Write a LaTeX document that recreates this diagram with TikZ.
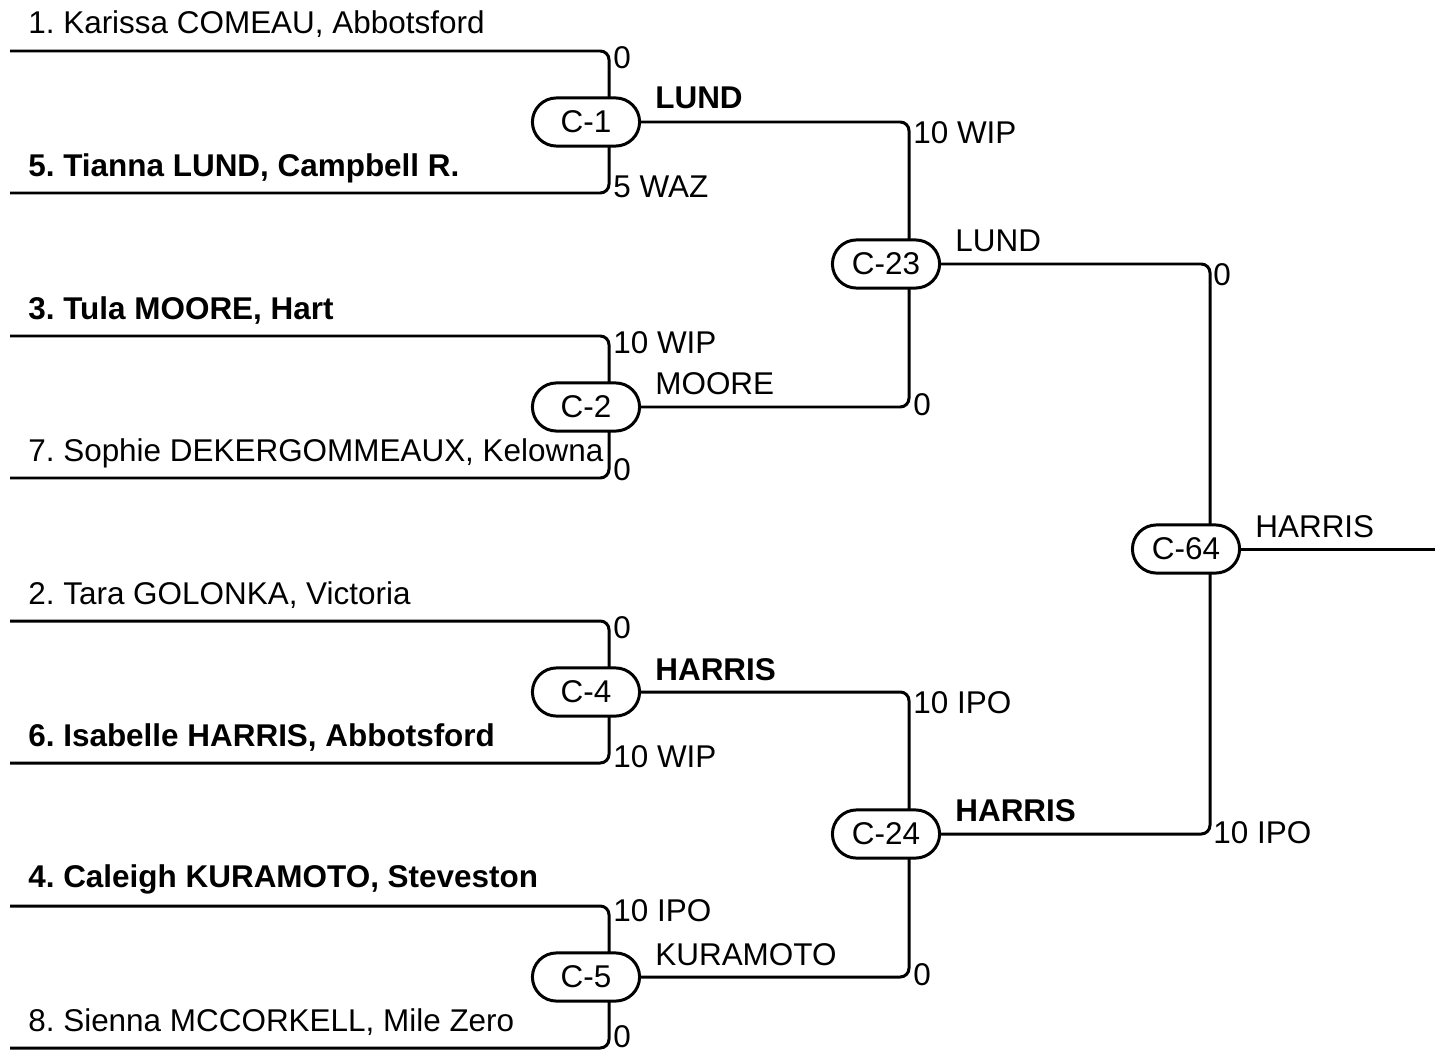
\documentclass[tikz,border=0pt]{standalone}
\usepackage{fontspec}
\setmainfont{Liberation Sans}
\usepackage{tikz}
\usetikzlibrary{positioning,backgrounds}
\frenchspacing

\tikzset{
    match/.style={draw, fill=white, line width=1.7pt, rounded corners=13.7pt, minimum width=61pt, minimum height=27.4pt, inner sep=0pt, font=\fontsize{17.9pt}{21pt}\selectfont},
    player/.style={anchor=base west, inner sep=0pt, font=\fontsize{17.9pt}{21pt}\selectfont},
    winner/.style={anchor=base west, inner sep=0pt, font=\fontsize{17.9pt}{21pt}\selectfont},
    score/.style={anchor=west, inner sep=0pt, font=\fontsize{17.9pt}{21pt}\selectfont},
    bracket/.style={line width=1.7pt, rounded corners=5pt}
}

\begin{document}
\begin{tikzpicture}[x=0.02cm, y=-0.02cm]
    \useasboundingbox (0,0) rectangle (1435,1054);

    \node[match] (c1) at (586,122) {C-1};
    \node[match] (c2) at (586,407) {C-2};
    \node[match] (c4) at (586,692) {C-4};
    \node[match] (c5) at (586,977) {C-5};
    \node[match] (c23) at (886,264) {C-23};
    \node[match] (c24) at (886,834) {C-24};
    \node[match] (c64) at (1186,549) {C-64};

    \coordinate (s1) at (10,51);
    \coordinate (s5) at (10,193);
    \coordinate (s3) at (10,336);
    \coordinate (s7) at (10,478);
    \coordinate (s2) at (10,621);
    \coordinate (s6) at (10,763);
    \coordinate (s4) at (10,906);
    \coordinate (s8) at (10,1048);
    \coordinate (j1) at (609,122);
    \coordinate (j2) at (609,407);
    \coordinate (j4) at (609,692);
    \coordinate (j5) at (609,977);
    \coordinate (j23) at (909,264);
    \coordinate (j24) at (909,834);
    \coordinate (j64) at (1210,549);
    \coordinate (fin) at (1435,549);

    \begin{scope}[on background layer]
        \draw[bracket] (s1) -| (j1) |- (s5);
        \draw[bracket] (s3) -| (j2) |- (s7);
        \draw[bracket] (s2) -| (j4) |- (s6);
        \draw[bracket] (s4) -| (j5) |- (s8);
        \draw[bracket] (c1.east) -| (j23) |- (c2.east);
        \draw[bracket] (c4.east) -| (j24) |- (c5.east);
        \draw[bracket] (c23.east) -| (j64) |- (c24.east);
        \draw[bracket] (c64.east) -- (fin);
    \end{scope}

    \node[player] (n1) at (28,34) {1. Karissa COMEAU, Abbotsford};
    \node[player] (n5) at (28,176) {\bfseries 5. Tianna LUND, Campbell R.};
    \node[player] (n3) at (28,319) {\bfseries 3. Tula MOORE, Hart};
    \node[player] (n7) at (28,461) {7. Sophie DEKERGOMMEAUX, Kelowna};
    \node[player] (n2) at (28,604) {2. Tara GOLONKA, Victoria};
    \node[player] (n6) at (28,746) {\bfseries 6. Isabelle HARRIS, Abbotsford};
    \node[player] (n4) at (28,887) {\bfseries 4. Caleigh KURAMOTO, Steveston};
    \node[player] (n8) at (28,1031) {8. Sienna MCCORKELL, Mile Zero};

    \node[winner] (w1) at (655,109) {\bfseries LUND};
    \node[winner] (w2) at (655,394) {MOORE};
    \node[winner] (w4) at (655,680) {\bfseries HARRIS};
    \node[winner] (w5) at (655,965) {KURAMOTO};
    \node[winner] (w23) at (955,251) {LUND};
    \node[winner] (w24) at (955,821) {\bfseries HARRIS};
    \node[winner] (w64) at (1255,537) {HARRIS};

    \node[score] (r1) at (613,58) {0};
    \node[score] (r5) at (613,187) {5 WAZ};
    \node[score] (r3) at (613,343) {10 WIP};
    \node[score] (r7) at (613,470) {0};
    \node[score] (r2) at (613,628) {0};
    \node[score] (r6) at (613,757) {10 WIP};
    \node[score] (r4) at (613,911) {10 IPO};
    \node[score] (r8) at (613,1037) {0};
    \node[score] (r11) at (913,133) {10 WIP};
    \node[score] (r12) at (913,405) {0};
    \node[score] (r14) at (913,703) {10 IPO};
    \node[score] (r15) at (913,975) {0};
    \node[score] (r23) at (1213,275) {0};
    \node[score] (r24) at (1213,833) {10 IPO};
\end{tikzpicture}
\end{document}
